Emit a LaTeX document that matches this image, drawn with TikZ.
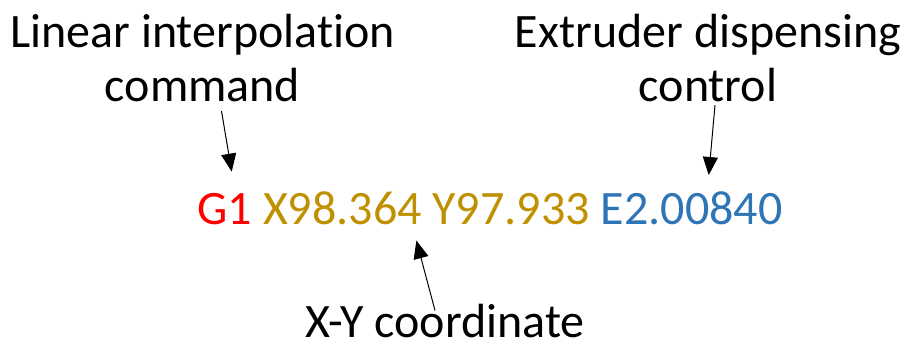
\documentclass[tikz,border=0pt]{standalone}
\usepackage{fontspec}
\setmainfont{Carlito}[Ligatures={NoCommon,NoContextual}]
\usetikzlibrary{arrows.meta}
\definecolor{gred}{RGB}{255,0,0}
\definecolor{ggold}{RGB}{191,144,0}
\definecolor{gblue}{RGB}{46,117,182}
\tikzset{
  label text/.style={inner sep=0pt, align=center, font=\fontsize{48}{54}\selectfont},
  code part/.style={inner sep=0pt, font=\fontsize{48}{54}\selectfont},
  pointer/.style={line width=1pt, -{Triangle[length=18pt,width=15pt]}}
}
\begin{document}
\begin{tikzpicture}[x=1pt,y=-1pt]
  \useasboundingbox (0,0) rectangle (908,352);
  % descriptive labels
  \node[label text, anchor=north] (lin) at (202.5,14) {Linear interpolation\\command};
  \node[label text, anchor=north] (ext) at (708,14) {Extruder dispensing\\control};
  \node[label text, anchor=base] (xyc) at (445,338) {X-Y coordinate};
  % the G-code line, split by meaning
  \node[code part, text=gred, anchor=base west] (g1) at (197,225) {G1};
  \node[code part, text=ggold, anchor=base west] (xy) at ([xshift=10.85pt]g1.base east) {X98.364 Y97.933};
  \node[code part, text=gblue, anchor=base west] (ecmd) at ([xshift=10.85pt]xy.base east) {E2.00840};
  % pointers
  \draw[pointer] ([xshift=19pt,yshift=-9pt]lin.south) -- ([xshift=34.7pt,yshift=22pt]g1.north west);
  \draw[pointer] ([xshift=7pt,yshift=-3pt]ext.south) -- ([xshift=17pt,yshift=17pt]ecmd.north);
  \draw[pointer] ([xshift=-10pt,yshift=-6pt]xyc.north) -- ([xshift=-10pt,yshift=-15pt]xy.south);
\end{tikzpicture}
\end{document}
